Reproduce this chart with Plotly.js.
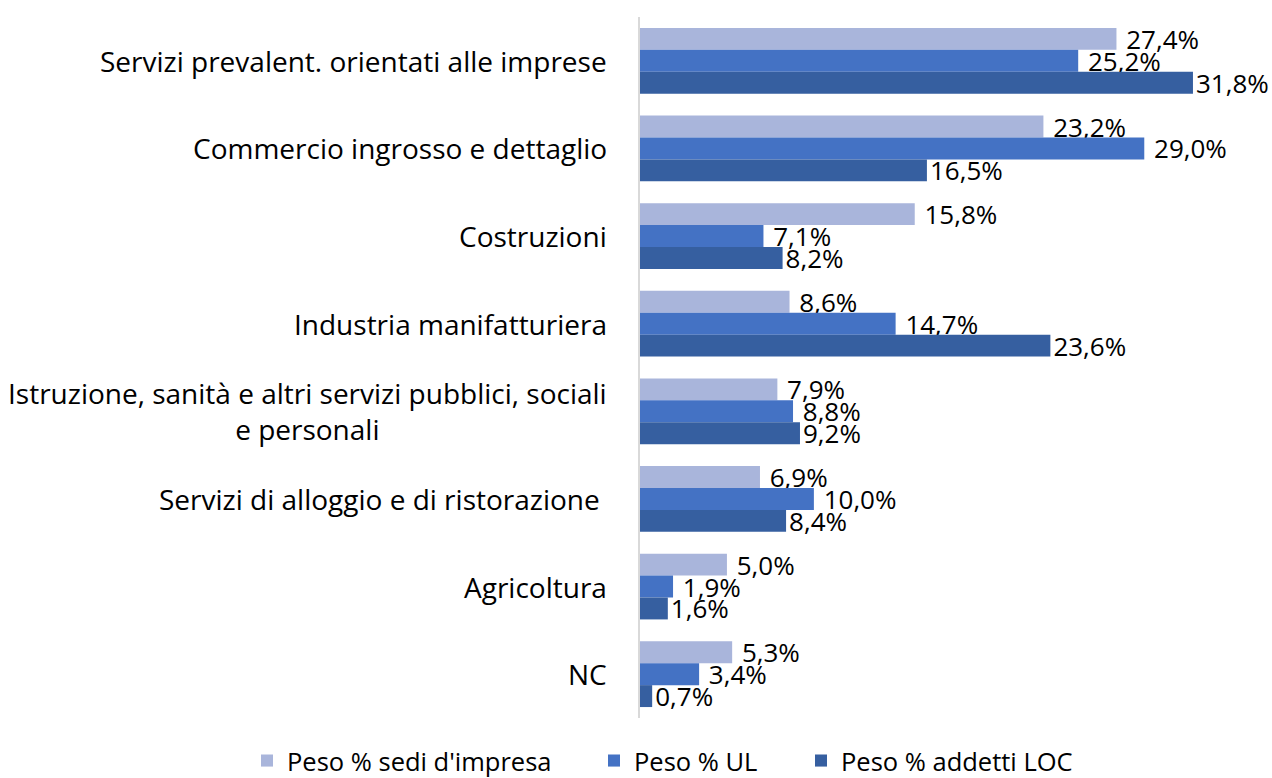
<!DOCTYPE html>
<html>
<head>
<meta charset="utf-8">
<script src="https://cdn.plot.ly/plotly-3.0.1.min.js"></script>
<style>html,body{margin:0;padding:0;background:#fff;}#chart{width:1272px;height:778px;}</style>
</head>
<body>
<div id="chart"></div>
<script>
const categories = [
  "Servizi prevalent. orientati alle imprese",
  "Commercio ingrosso e dettaglio",
  "Costruzioni",
  "Industria manifatturiera",
  "Istruzione, sanità e altri servizi pubblici, sociali<br>e personali",
  "Servizi di alloggio e di ristorazione ",
  "Agricoltura",
  "NC"
];
const seriesNames = ["Peso % sedi d'impresa", "Peso % UL", "Peso % addetti LOC"];
const sediImpresa = [27.4, 23.2, 15.8, 8.6, 7.9, 6.9, 5.0, 5.3];
const pesoUL      = [25.2, 29.0, 7.1, 14.7, 8.8, 10.0, 1.9, 3.4];
const addettiLOC  = [31.8, 16.5, 8.2, 23.6, 9.2, 8.4, 1.6, 0.7];

const colors = ["#a9b5db", "#4472c4", "#365fa0"];
const FONT = "'Open Sans', 'Noto Sans', sans-serif";
const seriesValues = [sediImpresa, pesoUL, addettiLOC];
const legendNames = ["legend", "legend2", "legend3"];
const labelPrefix = [" ", " ", ""];
const legendX = [247, 594, 801];

const traces = seriesValues.map((vals, i) => ({
  type: "bar",
  orientation: "h",
  name: seriesNames[i],
  x: vals,
  y: categories,
  marker: {color: colors[i]},
  text: vals.map(v => v.toFixed(1).replace(".", ",") + "%"),
  texttemplate: labelPrefix[i] + "%{text}",
  textposition: "outside",
  textfont: {family: FONT, size: 26, color: "#000"},
  constraintext: "none",
  cliponaxis: false,
  legend: legendNames[i],
  hoverinfo: "skip"
}));

const annotations = categories.map(c => ({
  x: 0, y: c, xref: "x", yref: "y",
  xanchor: "right", yanchor: "middle",
  xshift: -31,
  align: "center",
  text: c,
  showarrow: false,
  font: {family: FONT, size: 28, color: "#000"}
}));

const legendBase = {
  orientation: "h", xref: "container", yref: "container",
  yanchor: "middle", y: 17/778,
  font: {family: FONT, size: 25.5, color: "#000"},
  bgcolor: "rgba(0,0,0,0)", traceorder: "normal"
};
const layout = {
  width: 1272, height: 778,
  margin: {l: 640, r: 6, t: 17, b: 60},
  paper_bgcolor: "#fff", plot_bgcolor: "#fff",
  separators: ",.",
  barmode: "group",
  bargap: 0.25,
  bargroupgap: 0,
  xaxis: {range: [0, 36], showgrid: false, zeroline: false, showticklabels: false, ticks: "", showline: false, fixedrange: true},
  yaxis: {autorange: "reversed", showticklabels: false, ticks: "", showgrid: false, zeroline: false,
          showline: true, linecolor: "#d9d9d9", linewidth: 2},
  annotations: annotations,
  showlegend: true,
  legend: Object.assign({}, legendBase, {x: legendX[0]/1272, xanchor: "left"}),
  legend2: Object.assign({}, legendBase, {x: legendX[1]/1272, xanchor: "left"}),
  legend3: Object.assign({}, legendBase, {x: legendX[2]/1272, xanchor: "left"}),
  font: {family: FONT}
};

Plotly.newPlot("chart", traces, layout, {displayModeBar: false, staticPlot: true});
</script>
</body>
</html>
